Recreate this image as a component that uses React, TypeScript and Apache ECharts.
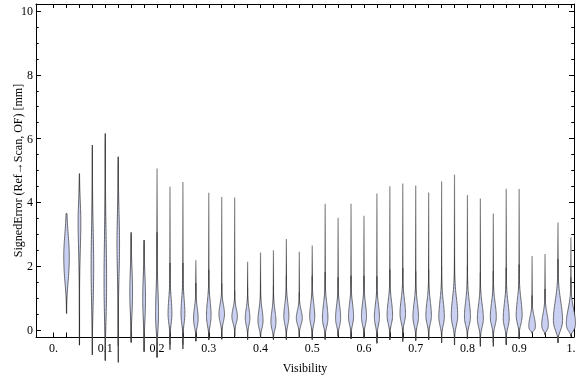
import React, { useEffect, useRef } from "react";
import * as echarts from "echarts";

// ---- data ----
const visibility = [0.025, 0.05, 0.075, 0.1, 0.125, 0.15, 0.175, 0.2, 0.225, 0.25, 0.275, 0.3, 0.325, 0.35, 0.375, 0.4, 0.425, 0.45, 0.475, 0.5, 0.525, 0.55, 0.575, 0.6, 0.625, 0.65, 0.675, 0.7, 0.725, 0.75, 0.775, 0.8, 0.825, 0.85, 0.875, 0.9, 0.925, 0.95, 0.975, 1.0];
const errMin = [0.52, -0.48, -0.78, -0.96, -1.02, -0.39, -0.68, -0.86, -0.62, -0.6, -0.35, -0.31, -0.29, -0.2, -0.3, -0.25, -0.3, -0.3, -0.25, -0.3, -0.3, -0.2, -0.28, -0.26, -0.42, -0.31, -0.37, -0.33, -0.31, -0.4, -0.47, -0.28, -0.52, -0.52, -0.47, -0.28, -0.1, -0.15, -0.4, -0.2];
const errMax = [3.65, 4.9, 5.8, 6.16, 5.43, 3.06, 2.82, 5.06, 4.49, 4.64, 2.19, 4.3, 4.17, 4.15, 2.14, 2.43, 2.5, 2.85, 2.45, 2.65, 3.96, 3.52, 3.96, 3.58, 4.28, 4.51, 4.59, 4.53, 4.31, 4.66, 4.87, 4.23, 4.12, 3.65, 4.43, 4.42, 2.32, 2.38, 3.37, 2.9];
const errMode = [2.3, 3.4, 2.0, 1.5, 2.7, 1.2, 1.0, 0.5, 0.5, 0.5, 0.35, 0.45, 0.5, 0.42, 0.37, 0.3, 0.26, 0.42, 0.37, 0.42, 0.37, 0.37, 0.42, 0.42, 0.4, 0.45, 0.5, 0.4, 0.45, 0.4, 0.45, 0.4, 0.35, 0.4, 0.35, 0.45, 0.12, 0.16, 0.3, 0.2];
const spreadBelow = [0.8, 0.9, 1.2, 1.2, 1.0, 0.7, 0.7, 0.5, 0.3, 0.3, 0.25, 0.3, 0.25, 0.2, 0.22, 0.25, 0.25, 0.25, 0.2, 0.25, 0.25, 0.25, 0.25, 0.25, 0.25, 0.25, 0.25, 0.25, 0.25, 0.25, 0.3, 0.25, 0.25, 0.25, 0.25, 0.25, 0.18, 0.2, 0.3, 0.25];
const spreadAbove = [0.7, 0.6, 1.2, 1.5, 1.0, 0.7, 0.7, 0.8, 0.5, 0.5, 0.35, 0.45, 0.3, 0.25, 0.3, 0.35, 0.35, 0.4, 0.25, 0.4, 0.45, 0.4, 0.4, 0.4, 0.4, 0.45, 0.45, 0.45, 0.45, 0.5, 0.55, 0.5, 0.45, 0.45, 0.5, 0.5, 0.3, 0.35, 0.6, 0.45];
const peakDensity = [0.6, 0.3, 0.28, 0.28, 0.28, 0.3, 0.3, 0.32, 0.42, 0.42, 0.5, 0.5, 0.6, 0.6, 0.5, 0.55, 0.55, 0.55, 0.65, 0.55, 0.6, 0.55, 0.55, 0.55, 0.55, 0.6, 0.6, 0.6, 0.6, 0.6, 0.7, 0.65, 0.65, 0.65, 0.65, 0.65, 0.72, 0.72, 1.0, 1.0];

const xTicks = [0, 0.025, 0.05, 0.075, 0.1, 0.125, 0.15, 0.175, 0.2, 0.225, 0.25, 0.275, 0.3, 0.325, 0.35, 0.375, 0.4, 0.425, 0.45, 0.475, 0.5, 0.525, 0.55, 0.575, 0.6, 0.625, 0.65, 0.675, 0.7, 0.725, 0.75, 0.775, 0.8, 0.825, 0.85, 0.875, 0.9, 0.925, 0.95, 0.975, 1.0];
const xLabelValues = [0, 0.1, 0.2, 0.3, 0.4, 0.5, 0.6, 0.7, 0.8, 0.9, 1.0];
const xLabelTexts = ["0.", "0.1", "0.2", "0.3", "0.4", "0.5", "0.6", "0.7", "0.8", "0.9", "1."];
const yMajorTicks = [0, 2, 4, 6, 8, 10];
const yMinorTicks = [0, 0.5, 1, 1.5, 2, 2.5, 3, 3.5, 4, 4.5, 5, 5.5, 6, 6.5, 7, 7.5, 8, 8.5, 9, 9.5, 10];

// ---- style constants ----
const MAX_HALF_WIDTH = 4.6; // px for density 1
const FONT = "Liberation Serif";
const FILL = "#c9d0f2";

export default function App() {
  const ref = useRef<HTMLDivElement>(null);
  useEffect(() => {
    if (!ref.current) return;
    const chart = echarts.init(ref.current, undefined, { renderer: "svg" });

    const data = visibility.map((v, i) => [v, errMin[i], errMax[i], errMode[i], spreadBelow[i], spreadAbove[i], peakDensity[i]]);

    const renderItem = (params: any, api: any) => {
      const x = api.value(0);
      const lo = api.value(1);
      const hi = api.value(2);
      const mode = api.value(3);
      const sL = api.value(4);
      const sU = api.value(5);
      const dens = api.value(6);
      const pTop = api.coord([x, hi]);
      const pBot = api.coord([x, lo]);
      const bLo = Math.max(lo, mode - 3.2 * sL);
      const bHi = Math.min(hi, mode + 3.2 * sU);
      const N = 60;
      const right: number[][] = [];
      const left: number[][] = [];
      for (let j = 0; j <= N; j++) {
        const y = bLo + ((bHi - bLo) * j) / N;
        const z = (y - mode) / (y < mode ? sL : sU);
        let hw = dens * MAX_HALF_WIDTH * Math.exp(-0.5 * z * z);
        const dLo = (y - lo) / Math.max(0.05, (mode - lo) * 0.6);
        const taper = 1 - Math.exp(-dLo * dLo * 3);
        hw = hw * Math.min(1, taper + 0.02);
        const p = api.coord([x, y]);
        right.push([p[0] + hw, p[1]]);
        left.push([p[0] - hw, p[1]]);
      }
      const pts = right.concat(left.reverse());
      const neckY = api.coord([x, bHi])[1];
      let neckFrac = (neckY - pTop[1]) / Math.max(1, pBot[1] - pTop[1]);
      neckFrac = Math.min(0.95, Math.max(0.05, neckFrac));
      const grad = new echarts.graphic.LinearGradient(
        pTop[0], pTop[1], pBot[0], pBot[1],
        [
          { offset: 0, color: "#8c8c8c" },
          { offset: neckFrac, color: "#444444" },
          { offset: 1, color: "#2a2a2a" },
        ],
        true
      );
      return {
        type: "group",
        children: [
          {
            type: "line",
            shape: { x1: pTop[0], y1: pTop[1], x2: pBot[0], y2: pBot[1] },
            style: { stroke: grad, lineWidth: 1.2 },
          },
          {
            type: "polygon",
            shape: { points: pts },
            style: { fill: FILL, stroke: "#404040", lineWidth: 0.75 },
          },
        ],
      };
    };

    const labelStyle = { fontFamily: FONT, fontSize: 12, color: "#000" };
    const lineStyle = { color: "#000", width: 1 };

    const option: any = {
      animation: false,
      grid: { left: 36, right: 2, top: 4, bottom: 40, containLabel: false, outerBoundsMode: "none" },
      xAxis: [
        {
          type: "value",
          position: "bottom",
          min: -0.034,
          max: 1.006,
          axisLine: { show: true, onZero: false, lineStyle },
          axisTick: { show: true, inside: true, length: 4.5, customValues: xTicks, lineStyle },
          axisLabel: {
            show: true,
            customValues: xLabelValues,
            margin: 5,
            ...labelStyle,
            formatter: (v: number) => {
              let best = 0;
              xLabelValues.forEach((lv, i) => {
                if (Math.abs(lv - v) < Math.abs(xLabelValues[best] - v)) best = i;
              });
              return xLabelTexts[best];
            },
          },
          splitLine: { show: false },
          name: "Visibility",
          nameLocation: "middle",
          nameGap: 25,
          nameMoveOverlap: false,
          nameTextStyle: { fontFamily: FONT, fontSize: 12, color: "#000" },
        },
        {
          type: "value",
          position: "top",
          min: -0.034,
          max: 1.006,
          axisLine: { show: true, onZero: false, lineStyle },
          axisTick: { show: true, inside: true, length: 4, customValues: xTicks, lineStyle },
          axisLabel: { show: false },
          splitLine: { show: false },
        },
      ],
      yAxis: [
        {
          type: "value",
          position: "left",
          min: -0.22,
          max: 10.22,
          axisLine: { show: true, onZero: false, lineStyle },
          axisTick: { show: true, inside: true, length: 5, customValues: yMajorTicks, lineStyle },
          axisLabel: { show: true, customValues: yMajorTicks, margin: 3, ...labelStyle },
          splitLine: { show: false },
          name: "SignedError (Ref\u2192Scan, OF) [mm]",
          nameLocation: "middle",
          nameRotate: 90,
          nameGap: 12,
          nameMoveOverlap: false,
          nameTextStyle: { fontFamily: FONT, fontSize: 12, color: "#000" },
        },
        {
          type: "value",
          position: "left",
          min: -0.22,
          max: 10.22,
          axisLine: { show: false, onZero: false },
          axisTick: { show: true, inside: true, length: 2.7, customValues: yMinorTicks, lineStyle },
          axisLabel: { show: false },
          splitLine: { show: false },
        },
        {
          type: "value",
          position: "right",
          min: -0.22,
          max: 10.22,
          axisLine: { show: true, onZero: false, lineStyle },
          axisTick: { show: true, inside: true, length: 5, customValues: yMajorTicks, lineStyle },
          axisLabel: { show: false },
          splitLine: { show: false },
        },
        {
          type: "value",
          position: "right",
          min: -0.22,
          max: 10.22,
          axisLine: { show: false, onZero: false },
          axisTick: { show: true, inside: true, length: 2.7, customValues: yMinorTicks, lineStyle },
          axisLabel: { show: false },
          splitLine: { show: false },
        },
      ],
      series: [
        {
          type: "custom",
          xAxisIndex: 0,
          yAxisIndex: 0,
          clip: false,
          data,
          encode: { x: 0, y: [1, 2] },
          renderItem,
        },
      ],
    };
    chart.setOption(option);
    return () => chart.dispose();
  }, []);
  return <div ref={ref} style={{ position: "fixed", left: 0, top: 0, width: 576, height: 377 }} />;
}
